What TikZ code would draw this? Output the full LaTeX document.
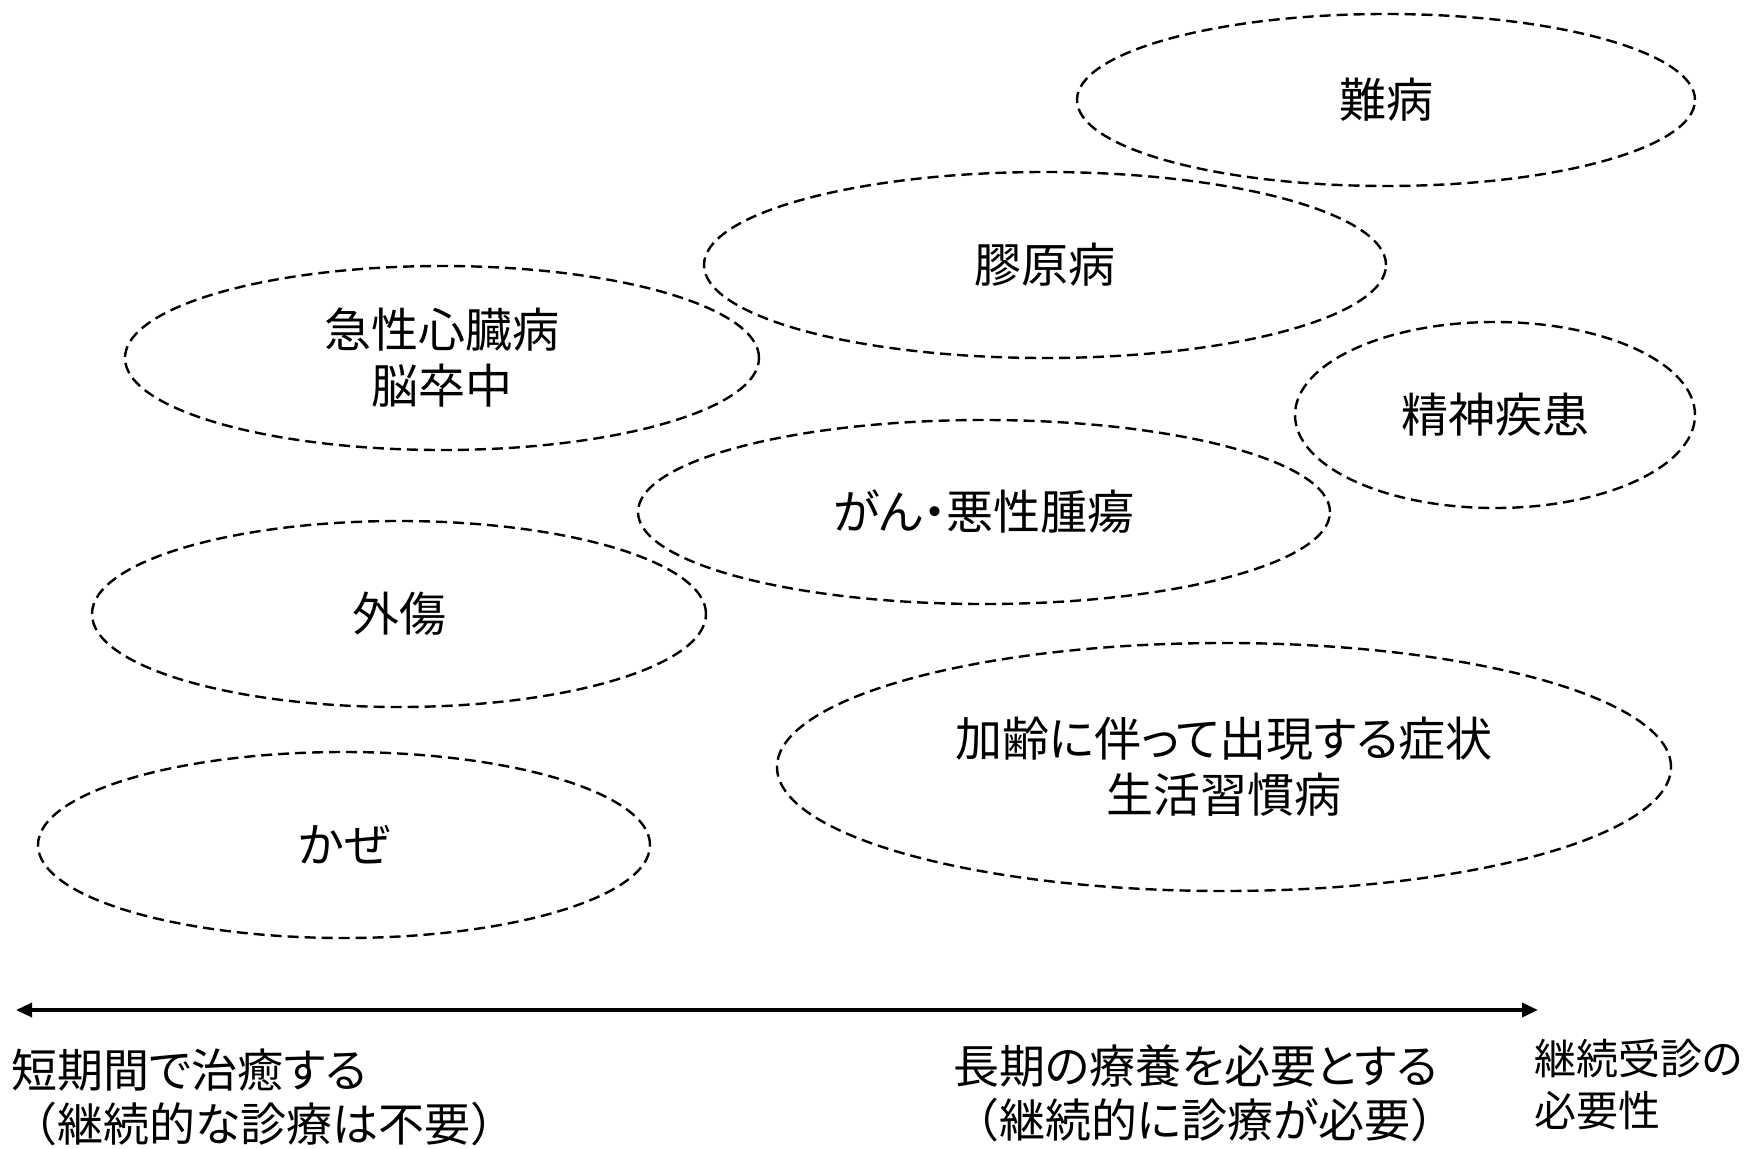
\documentclass[tikz,border=0pt]{standalone}
\usepackage{fontspec}
\setmainfont[RawFeature=+palt]{Noto Sans CJK JP}
\newfontfamily\fwfont{Noto Sans CJK JP}
\newcommand{\lpar}{{\fwfont （}}
\newcommand{\rpar}{{\fwfont ）}}
\usetikzlibrary{shapes.geometric,arrows.meta}
\tikzset{
  blob/.style={draw=black, ellipse, dash pattern=on 11pt off 6pt, line width=2.4pt, inner sep=0pt,
    align=center, font=\fontsize{47}{56}\selectfont},
  axislabel/.style={anchor=west, align=left, inner sep=0pt, font=\fontsize{46}{54}\selectfont},
  sidelabel/.style={anchor=west, align=left, inner sep=0pt, font=\fontsize{42}{52}\selectfont},
}
\begin{document}
\begin{tikzpicture}[x=1pt,y=-1pt]
\useasboundingbox[fill=white] (0,0) rectangle (1758,1148);
\node[blob, minimum width=618pt, minimum height=172pt] (nanbyo) at (1386,100) {難病};
\node[blob, minimum width=682pt, minimum height=186pt] (kogen) at (1045,265) {膠原病};
\node[blob, minimum width=634pt, minimum height=184pt] (kyusei) at (442,358) {急性心臓病\\脳卒中};
\node[blob, minimum width=400pt, minimum height=186pt] (seishin) at (1495,415) {精神疾患};
\node[blob, minimum width=692pt, minimum height=184pt] (gan) at (984,512) {がん・悪性腫瘍};
\node[blob, minimum width=614pt, minimum height=186pt] (gaisho) at (399,614) {外傷};
\node[blob, minimum width=894pt, minimum height=248pt] (karei) at (1224,767) {加齢に伴って出現する症状\\生活習慣病};
\node[blob, minimum width=612pt, minimum height=186pt] (kaze) at (344,845) {かぜ};
\coordinate (L) at (16,1010);
\coordinate (R) at (1538,1010);
\draw[{Triangle[length=16pt,width=14pt]}-{Triangle[length=16pt,width=14pt]}, line width=3.5pt] (L) -- (R);
\node[axislabel] (short) at (11,1097) {短期間で治癒する\\\lpar 継続的な診療は不要\rpar};
\node[axislabel] (long) at (953,1093) {長期の療養を必要とする\\\lpar 継続的に診療が必要\rpar};
\node[sidelabel] (need) at (1534,1084) {継続受診の\\必要性};
\end{tikzpicture}
\end{document}
